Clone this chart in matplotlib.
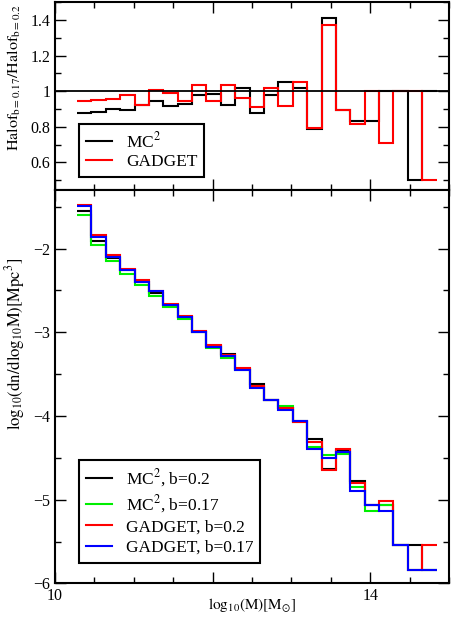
import numpy as np
import matplotlib
matplotlib.use("Agg")
import matplotlib.pyplot as plt
from matplotlib.ticker import MultipleLocator

plt.rcParams['font.family'] = ['Liberation Serif', 'DejaVu Serif']
plt.rcParams['mathtext.fontset'] = 'stix'

# bin edges in log10(M)
edges = [10.28, 10.462, 10.645, 10.827, 11.01, 11.192, 11.375, 11.557, 11.74,
         11.922, 12.105, 12.287, 12.47, 12.652, 12.835, 13.017, 13.2, 13.382,
         13.565, 13.747, 13.93, 14.112, 14.295, 14.477, 14.66, 14.842]

# ratio panel
ratio_mc2 = [0.879, 0.882, 0.901, 0.895, 0.925, 0.945, 0.914, 0.929, 0.979, 0.985,
             0.92, 1.017, 0.875, 0.979, 1.054, 1.017, 0.789, 1.409, 0.892, 0.833,
             0.833, 1.0, 1.0, 0.5, 1.0]
ratio_gadget = [0.942, 0.951, 0.957, 0.981, 0.925, 1.004, 0.989, 0.942, 1.032, 0.944,
                1.037, 0.963, 0.91, 1.015, 0.918, 1.05, 0.795, 1.372, 0.895, 0.815,
                1.0, 0.71, 1.0, 1.0, 0.5]

# mass function panel
mc2_b02 = [-1.556, -1.913, -2.11, -2.25, -2.397, -2.536, -2.675, -2.82, -2.99, -3.165,
           -3.262, -3.44, -3.616, -3.806, -3.9, -4.06, -4.274, -4.63, -4.41, -4.77,
           -5.06, -5.06, -5.545, -5.545, -5.84]
mc2_b017 = [-1.595, -1.952, -2.151, -2.298, -2.429, -2.56, -2.7, -2.845, -3.0, -3.183,
            -3.302, -3.448, -3.65, -3.81, -3.885, -4.07, -4.373, -4.46, -4.449, -4.85,
            -5.14, -5.06, -5.545, -5.84, -5.84]
gad_b02 = [-1.476, -1.833, -2.071, -2.246, -2.369, -2.505, -2.667, -2.81, -2.985, -3.151,
           -3.275, -3.429, -3.64, -3.806, -3.905, -4.076, -4.306, -4.64, -4.393, -4.798,
           -5.06, -5.01, -5.545, -5.84, -5.545]
gad_b017 = [-1.496, -1.862, -2.1, -2.25, -2.397, -2.508, -2.675, -2.82, -2.99, -3.171,
            -3.278, -3.448, -3.667, -3.806, -3.925, -4.06, -4.393, -4.5, -4.433, -4.89,
            -5.06, -5.14, -5.545, -5.84, -5.84]

fig = plt.figure(figsize=(4.52, 6.21), dpi=100)
ax1 = fig.add_axes([0.1217, 0.694, 0.8717, 0.3027])
ax2 = fig.add_axes([0.1217, 0.0604, 0.8717, 0.6336])

lw = 1.5
for ax in (ax1, ax2):
    ax.set_xlim(10, 15)
    ax.set_xticks([10, 12, 14])
    ax.xaxis.set_minor_locator(MultipleLocator(0.5))
    ax.tick_params(which='both', direction='in', top=True, right=True,
                   labelsize=11.5, width=1.0)
    ax.tick_params(which='major', length=8)
    ax.tick_params(which='minor', length=4.5)
    for s in ax.spines.values():
        s.set_linewidth(1.5)

# top
ax1.axhline(1.0, color='black', lw=1.3)
ax1.stairs(ratio_mc2, edges, baseline=None, color='black', lw=lw, label=r'MC$^2$')
ax1.stairs(ratio_gadget, edges, baseline=None, color='red', lw=lw, label='GADGET')
ax1.set_ylim(0.445, 1.5)
ax1.yaxis.set_minor_locator(MultipleLocator(0.1))
ax1.set_yticks([0.6, 0.8, 1.0, 1.2, 1.4])
ax1.set_yticklabels(['0.6', '0.8', '1', '1.2', '1.4'])
ax1.tick_params(labelbottom=False)
ax1.set_ylabel(r'$\mathrm{Halof}_{\mathrm{b=0.17}}/\mathrm{Halof}_{\mathrm{b=0.2}}$', fontsize=11.5)
ax1.yaxis.set_label_coords(-0.082, 0.6)
leg1 = ax1.legend(loc='lower left', bbox_to_anchor=(0.061, 0.069), fontsize=12.5,
                  fancybox=False, edgecolor='black', framealpha=1,
                  handlelength=1.5, handletextpad=0.8, borderpad=0.4,
                  labelspacing=0.15, borderaxespad=0)
leg1.get_frame().set_linewidth(1.5)

# bottom
ax2.stairs(mc2_b02, edges, baseline=None, color='black', lw=lw, label=r'MC$^2$, b=0.2')
ax2.stairs(mc2_b017, edges, baseline=None, color='#00ee00', lw=lw, label=r'MC$^2$, b=0.17')
ax2.stairs(gad_b02, edges, baseline=None, color='red', lw=lw, label='GADGET, b=0.2')
ax2.stairs(gad_b017, edges, baseline=None, color='blue', lw=lw, label='GADGET, b=0.17')
ax2.set_ylim(-6, -1.3)
ax2.yaxis.set_major_locator(MultipleLocator(1))
ax2.yaxis.set_minor_locator(MultipleLocator(0.5))
ax2.set_xticklabels(['10', '', '14'])  # the 12 label sits under the axis title
ax2.set_ylabel(r'$\mathrm{log}_{10}\mathrm{(dn/dlog}_{10}\mathrm{M)[Mpc}^{3}\mathrm{]}$', fontsize=12)
ax2.yaxis.set_label_coords(-0.07, 0.61)
ax2.set_xlabel(r'$\mathrm{log}_{10}\mathrm{(M)[M}_{\odot}\mathrm{]}$', fontsize=11, labelpad=-6)
leg2 = ax2.legend(loc='lower left', bbox_to_anchor=(0.061, 0.053), fontsize=12.5,
                  fancybox=False, edgecolor='black', framealpha=1,
                  handlelength=1.5, handletextpad=0.8, borderpad=0.4,
                  labelspacing=0.25, borderaxespad=0)
leg2.get_frame().set_linewidth(1.5)

fig.savefig('out.png', dpi=100)
